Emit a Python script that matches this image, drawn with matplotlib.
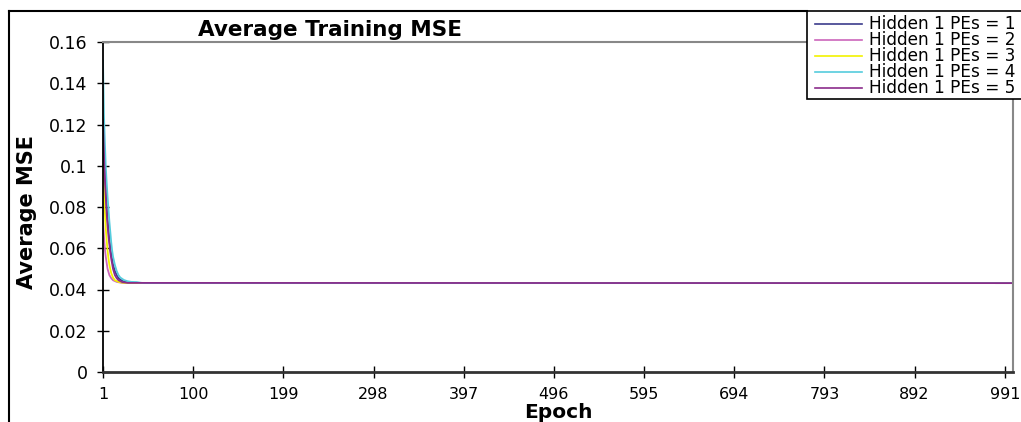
import matplotlib.pyplot as plt
from matplotlib.lines import Line2D
from matplotlib.patches import Rectangle

# epochs / average MSE (tail is flat to epoch 1000)
ep1 = [1, 2, 3, 4, 5, 6, 7, 8, 9, 10, 12, 14, 16, 18, 22, 26, 32, 1000]
mse1 = [0.118, 0.105, 0.095, 0.087, 0.080, 0.074, 0.069, 0.064, 0.060, 0.057,
        0.052, 0.049, 0.047, 0.0455, 0.0442, 0.0436, 0.0432, 0.0431]
ep2 = [1, 2, 3, 4, 5, 6, 8, 10, 12, 16, 22, 1000]
mse2 = [0.073, 0.066, 0.060, 0.056, 0.053, 0.050, 0.047, 0.0455, 0.0445,
        0.0437, 0.0432, 0.0431]
ep3 = [1, 2, 3, 4, 5, 6, 7, 8, 10, 12, 14, 18, 24, 1000]
mse3 = [0.101, 0.088, 0.078, 0.070, 0.064, 0.059, 0.055, 0.052, 0.048, 0.0458,
        0.0445, 0.0437, 0.0432, 0.0431]
ep4 = [1, 2, 3, 4, 5, 6, 7, 8, 9, 10, 11, 12, 14, 16, 18, 20, 24, 28, 32, 38,
       42, 46, 1000]
mse4 = [0.151, 0.125, 0.112, 0.100, 0.092, 0.085, 0.079, 0.073, 0.068, 0.063,
        0.059, 0.056, 0.052, 0.049, 0.047, 0.0458, 0.0446, 0.0440, 0.0437,
        0.0436, 0.0433, 0.0431, 0.0431]
ep5 = [1, 2, 3, 4, 5, 6, 7, 8, 9, 10, 12, 14, 16, 18, 22, 28, 1000]
mse5 = [0.122, 0.106, 0.094, 0.085, 0.077, 0.071, 0.066, 0.062, 0.058, 0.055,
        0.050, 0.047, 0.0455, 0.0445, 0.0436, 0.0432, 0.0431]

labels = ['Hidden 1 PEs = 1', 'Hidden 1 PEs = 2', 'Hidden 1 PEs = 3',
          'Hidden 1 PEs = 4', 'Hidden 1 PEs = 5']
colors = ['#3c3c8c', '#cc66bb', '#f2f200', '#55ccdd', '#8b2c8b']
xticks = [1, 100, 199, 298, 397, 496, 595, 694, 793, 892, 991]
yticks = [0, 0.02, 0.04, 0.06, 0.08, 0.1, 0.12, 0.14, 0.16]
ytick_labels = ['0', '0.02', '0.04', '0.06', '0.08', '0.1', '0.12', '0.14', '0.16']

W, H = 1021, 422
fig = plt.figure(figsize=(W / 100, H / 100), dpi=100)
ax = fig.add_axes([103 / W, 1 - 372 / H, (1013 - 103) / W, (372 - 42) / H])

series = [(ep1, mse1), (ep2, mse2), (ep3, mse3), (ep4, mse4), (ep5, mse5)]
for (x, y), c in zip(series, colors):
    ax.plot(x, y, color=c, lw=1.3)

ax.set_xlim(1, 1000)
ax.set_ylim(0, 0.16)
ax.set_xticks(xticks)
ax.set_xticklabels([str(t) for t in xticks], fontsize=11.5)
ax.set_yticks(yticks)
ax.set_yticklabels(ytick_labels, fontsize=12.5)
ax.tick_params(direction='inout', length=8, width=1, pad=7, color='black')
ax.spines['left'].set_color('black')
ax.spines['left'].set_linewidth(1.3)
ax.spines['bottom'].set_color('#333333')
ax.spines['bottom'].set_linewidth(2)
for s in ['top', 'right']:
    ax.spines[s].set_color('#888888')
    ax.spines[s].set_linewidth(1.5)

fig.text(330 / W, 1 - 30 / H, 'Average Training MSE', fontsize=15.5,
         fontweight='bold', ha='center', va='center')
fig.text(27 / W, 1 - 212 / H, 'Average MSE', fontsize=15, fontweight='bold',
         rotation=90, ha='center', va='center')
fig.text(558 / W, 1 - 413 / H, 'Epoch', fontsize=14.5, fontweight='bold',
         ha='center', va='center')

# outer chart frame (left and top edges visible)
fig.add_artist(Line2D([9 / W, 9 / W], [0, 1 - 11 / H], transform=fig.transFigure,
                      color='black', lw=1.5))
fig.add_artist(Line2D([9 / W, 807 / W], [1 - 11 / H, 1 - 11 / H],
                      transform=fig.transFigure, color='black', lw=1.5))

# legend box, runs off the right edge
fig.add_artist(Rectangle((807 / W, 1 - 99 / H), 300 / W, 88 / H,
                         transform=fig.transFigure, fill=True, fc='white',
                         ec='black', lw=1.2))
rows = [24, 40, 56, 72, 88]
for lab, c, r in zip(labels, colors, rows):
    yy = 1 - r / H
    fig.add_artist(Line2D([815 / W, 862 / W], [yy, yy], transform=fig.transFigure,
                          color=c, lw=1.2))
    fig.text(869 / W, yy, lab, fontsize=12.2, ha='left', va='center')

fig.savefig('out.png', dpi=100)
